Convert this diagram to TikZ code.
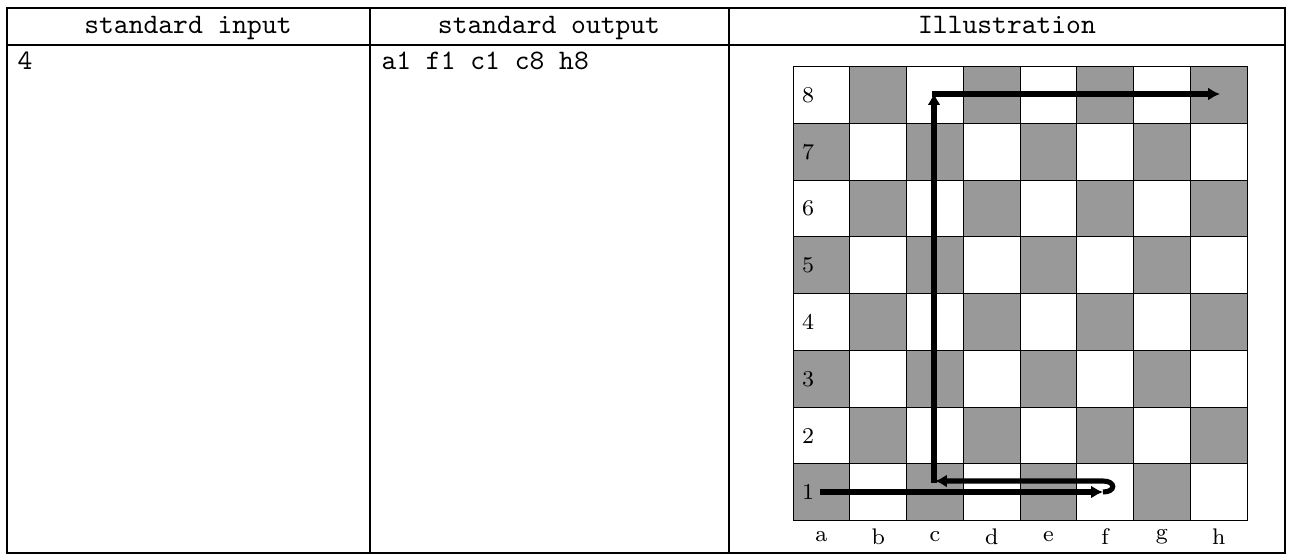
\documentclass[tikz,border=0pt]{standalone}
\usetikzlibrary{arrows.meta}
\definecolor{boardgray}{gray}{0.6}
\begin{document}
\begin{tikzpicture}[x=0.3546pt,y=-0.3546pt,
  rule/.style={line width=0.45pt},
  cellline/.style={line width=0.35pt, draw=black},
  hdr/.style={font=\ttfamily, anchor=base, inner sep=0pt},
  cell/.style={font=\ttfamily, anchor=base west, inner sep=0pt},
  coordlabel/.style={font=\footnotesize, inner sep=0pt},
  mv/.style={line width=1.8pt, -{Latex[length=4.2pt,width=4.6pt]}}]
\useasboundingbox (0,0) rectangle (1292,555);

% table frame
\draw[rule] (7,8) rectangle (1285,553);
\draw[rule] (7,45) -- (1285,45);
\draw[rule] (370,8) -- (370,553);
\draw[rule] (729,8) -- (729,553);

% header and contents
\node[hdr] (h1) at (188,33) {standard input};
\node[hdr] (h2) at (549,33) {standard output};
\node[hdr] (h3) at (1007,33) {Illustration};
\node[cell] (in) at (17,69) {4};
\node[cell] (out) at (381,69) {a1 f1 c1 c8 h8};

% board squares
\foreach \i in {0,...,7}{
  \foreach \j in {0,...,7}{
    \pgfmathtruncatemacro\cellpar{mod(\i+\j,2)}
    \ifnum\cellpar=0 \def\cellfill{boardgray}\else\def\cellfill{white}\fi
    \draw[cellline, fill=\cellfill] (793+\i*56.75, 520.7-\j*56.75) rectangle ++(56.75,-56.75);
  }
}

% rank and file labels
\foreach \r in {1,...,8}{
  \node[coordlabel] (rank\r) at (808, 520.7-\r*56.75+28.4) {\r};
}
\foreach \f [count=\k from 0] in {a,b,c,d,e,f,g,h}{
  \node[coordlabel] (file\f) at (821.4+\k*56.75, 537) {\f};
}

% rook route a1 -> f1 -> c1 -> c8 -> h8
\coordinate (a1) at (820,492);
\coordinate (f1) at (1103,492);
\coordinate (f1r) at (1103,481);
\coordinate (c1) at (935,481);
\coordinate (c1u) at (934,483);
\coordinate (c8) at (934,93);
\coordinate (c8r) at (932,94);
\coordinate (h8) at (1220,94);

\draw[mv] (a1) -- (f1);
\draw[mv] (f1) .. controls (1116,492) and (1116,481) .. (f1r) -- (c1);
\draw[mv] (c1u) -- (c8);
\draw[mv] (c8r) -- (h8);
\end{tikzpicture}
\end{document}
